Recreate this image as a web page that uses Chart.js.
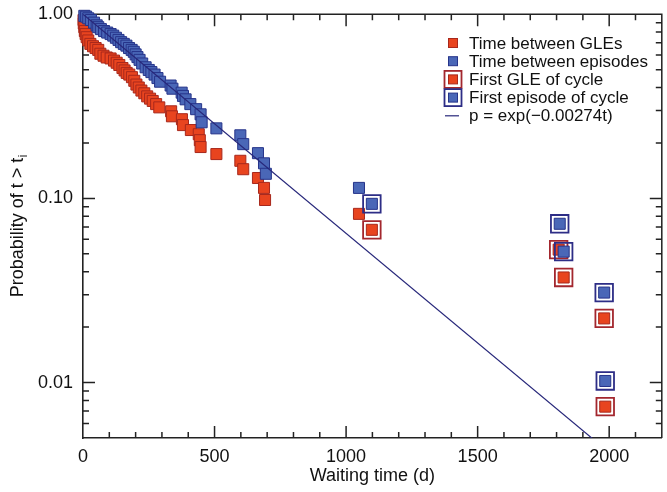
<!DOCTYPE html>
<html>
<head>
<meta charset="utf-8">
<script src="https://cdn.jsdelivr.net/npm/chart.js@4.4.1/dist/chart.umd.min.js"></script>
<style>
  html, body { margin: 0; padding: 0; background: #fff; overflow: hidden; }
  canvas { display: block; }
</style>
</head>
<body>
<canvas id="waitChart" width="676" height="492"></canvas>
<script>
// Waiting times (days) and survival probabilities
const gleTimes = [2, 3, 5, 7, 10, 14, 20, 28, 38, 48, 58, 66, 78, 90, 105, 118, 128, 138, 150, 158, 166, 176, 186, 195, 203, 212, 222, 233, 244, 255, 265, 278, 290, 335, 338, 376, 380, 410, 440, 444, 447, 507, 598, 609, 665, 688, 692, 1049];
const gleProb = [0.93, 0.89, 0.85, 0.81, 0.78, 0.75, 0.72, 0.69, 0.67, 0.655, 0.64, 0.61, 0.595, 0.582, 0.575, 0.56, 0.545, 0.53, 0.51, 0.495, 0.48, 0.47, 0.455, 0.435, 0.415, 0.40, 0.385, 0.372, 0.358, 0.348, 0.338, 0.325, 0.312, 0.297, 0.279, 0.269, 0.25, 0.235, 0.223, 0.207, 0.19, 0.174, 0.16, 0.144, 0.129, 0.114, 0.098, 0.0824];

const episodeTimes = [5, 12, 20, 30, 42, 52, 58, 68, 80, 92, 105, 115, 125, 135, 145, 155, 165, 175, 185, 193, 200, 207, 215, 225, 238, 250, 260, 272, 283, 293, 333, 340, 375, 380, 390, 408, 430, 447, 451, 507, 598, 609, 665, 688, 695, 1049];
const episodeProb = [0.98, 0.97, 0.95, 0.93, 0.90, 0.87, 0.85, 0.83, 0.81, 0.795, 0.78, 0.765, 0.745, 0.725, 0.705, 0.69, 0.675, 0.655, 0.64, 0.625, 0.605, 0.585, 0.565, 0.54, 0.515, 0.498, 0.485, 0.47, 0.45, 0.43, 0.41, 0.394, 0.375, 0.36, 0.345, 0.325, 0.305, 0.286, 0.259, 0.240, 0.220, 0.197, 0.176, 0.155, 0.136, 0.114];

const firstGleTimes = [1098, 1808, 1827, 1981, 1985];
const firstGleProb = [0.0675, 0.0527, 0.0372, 0.0223, 0.0074];
const firstEpisodeTimes = [1098, 1812, 1827, 1981, 1985];
const firstEpisodeProb = [0.0934, 0.0728, 0.0514, 0.0308, 0.0102];

// fitted decay rate given in the legend
const fitRate = 0.00274;
const fitTimes = [0, 2200];

const xTicks = [0, 500, 1000, 1500, 2000];
const yTicks = [0.01, 0.1, 1];
const legendLabels = ["Time between GLEs", "Time between episodes", "First GLE of cycle", "First episode of cycle", "p = exp(\u22120.00274t)"];

// colours
const redFill = "#e8441f", redEdge = "#a8281c", redRing = "#a3272e";
const blueFill = "#4a67b7", blueEdge = "#26348a", blueRing = "#2d2d86";
const fitColor = "#27277a";
const fontFamily = "'Liberation Sans', Arial, Helvetica, sans-serif";

const toPoints = (xs, ys) => xs.map((x, i) => ({ x: x, y: ys[i] }));

// Ticks on all four sides pointing inward + top/right frame
const framePlugin = {
  id: "frame",
  beforeDatasetsDraw(chart) {
    const { ctx, chartArea: a, scales: { x, y } } = chart;
    ctx.save();
    ctx.strokeStyle = "#222";
    ctx.lineWidth = 1.5;
    ctx.beginPath();
    ctx.moveTo(a.left, a.top);
    ctx.lineTo(a.right, a.top);
    ctx.lineTo(a.right, a.bottom);
    for (let t = 100; t <= 2200; t += 100) {
      const px = x.getPixelForValue(t);
      const len = t % 500 === 0 ? 12 : 6;
      ctx.moveTo(px, a.bottom);
      ctx.lineTo(px, a.bottom - len);
      ctx.moveTo(px, a.top);
      ctx.lineTo(px, a.top + len);
    }
    for (let k = -3; k <= 0; k++) {
      for (let m = 1; m <= 9; m++) {
        const v = m * Math.pow(10, k);
        if (v < y.min * 1.001 || v > y.max * 0.999) continue;
        const py = y.getPixelForValue(v);
        const len = m === 1 ? 12 : 6;
        ctx.moveTo(a.left, py);
        ctx.lineTo(a.left + len, py);
        ctx.moveTo(a.right, py);
        ctx.lineTo(a.right - len, py);
      }
    }
    ctx.stroke();
    ctx.restore();
  },
};

// y title with subscript, and the legend box
const textPlugin = {
  id: "texts",
  afterDraw(chart) {
    const { ctx, chartArea: a } = chart;
    ctx.save();
    ctx.fillStyle = "#111";

    // y axis title
    ctx.translate(18, (a.top + a.bottom) / 2);
    ctx.rotate(-Math.PI / 2);
    ctx.font = "18px " + fontFamily;
    const mainText = "Probability of t > t";
    const w1 = ctx.measureText(mainText).width;
    ctx.font = "12px " + fontFamily;
    const w2 = ctx.measureText("i").width;
    const start = -(w1 + w2) / 2;
    ctx.textBaseline = "middle";
    ctx.font = "18px " + fontFamily;
    ctx.fillText(mainText, start, 0);
    ctx.font = "12px " + fontFamily;
    ctx.fillText("i", start + w1 + 0.5, 6);
    ctx.setTransform(1, 0, 0, 1, 0, 0);

    // legend
    const cx = 453, tx = 469, y0 = 43, step = 18.2;
    const square = (yc, fill, edge, s) => {
      ctx.fillStyle = fill;
      ctx.fillRect(cx - s / 2, yc - s / 2, s, s);
      ctx.strokeStyle = edge;
      ctx.lineWidth = 1;
      ctx.strokeRect(cx - s / 2, yc - s / 2, s, s);
    };
    const ring = (yc, color) => {
      ctx.strokeStyle = color;
      ctx.lineWidth = 1.8;
      ctx.strokeRect(cx - 8.5, yc - 8.5, 17, 17);
    };
    square(y0, redFill, redEdge, 9);
    square(y0 + step, blueFill, blueEdge, 9);
    ring(y0 + 2 * step, redRing);
    square(y0 + 2 * step, redFill, redEdge, 9);
    ring(y0 + 3 * step, blueRing);
    square(y0 + 3 * step, blueFill, blueEdge, 9);
    ctx.strokeStyle = fitColor;
    ctx.lineWidth = 1.2;
    ctx.beginPath();
    ctx.moveTo(445, y0 + 4 * step);
    ctx.lineTo(459, y0 + 4 * step);
    ctx.stroke();

    ctx.fillStyle = "#111";
    ctx.font = "17px " + fontFamily;
    ctx.textBaseline = "middle";
    legendLabels.forEach((txt, i) => ctx.fillText(txt, tx, y0 + i * step + 1));
    ctx.restore();
  },
};

const squareSet = (data, fill, edge) => ({
  data: data,
  pointStyle: "rect",
  pointRadius: 7.8,
  pointBackgroundColor: fill,
  pointBorderColor: edge,
  pointBorderWidth: 1,
  clip: false,
});
const ringSet = (data, color) => ({
  data: data,
  pointStyle: "rect",
  pointRadius: 12.4,
  pointBackgroundColor: "rgba(0,0,0,0)",
  pointBorderColor: color,
  pointBorderWidth: 1.8,
  clip: false,
});

const config = {
  type: "scatter",
  data: {
    datasets: [
      {
        data: fitTimes.map((t) => ({ x: t, y: Math.exp(-fitRate * t) })),
        showLine: true,
        borderColor: fitColor,
        borderWidth: 1.2,
        pointRadius: 0,
      },
      squareSet(toPoints(firstEpisodeTimes, firstEpisodeProb), blueFill, blueEdge),
      ringSet(toPoints(firstEpisodeTimes, firstEpisodeProb), blueRing),
      squareSet(toPoints(firstGleTimes, firstGleProb), redFill, redEdge),
      ringSet(toPoints(firstGleTimes, firstGleProb), redRing),
      squareSet(toPoints(episodeTimes, episodeProb), blueFill, blueEdge),
      squareSet(toPoints(gleTimes, gleProb), redFill, redEdge),
    ],
  },
  options: {
    responsive: false,
    animation: false,
    events: [],
    layout: { padding: { top: 12, right: 8, bottom: 0, left: 0 } },
    scales: {
      x: {
        type: "linear",
        min: 0,
        max: 2200,
        afterBuildTicks: (s) => { s.ticks = xTicks.map((v) => ({ value: v })); },
        afterFit: (s) => { s.height = 54; s.paddingLeft = 0; s.paddingRight = 0; },
        grid: { display: false, drawTicks: false },
        border: { display: true, color: "#222", width: 1.6 },
        ticks: {
          padding: 8,
          color: "#111",
          font: { size: 18, family: fontFamily },
          maxRotation: 0,
          callback: (v) => String(v),
        },
        title: {
          display: true,
          text: "Waiting time (d)",
          color: "#111",
          font: { size: 18, family: fontFamily },
          padding: { top: 0, bottom: 5 },
        },
      },
      y: {
        type: "logarithmic",
        min: 0.005,
        max: 1,
        afterBuildTicks: (s) => { s.ticks = yTicks.map((v) => ({ value: v })); },
        afterFit: (s) => { s.width = 83; s.paddingTop = 0; s.paddingBottom = 0; },
        grid: { display: false, drawTicks: false },
        border: { display: true, color: "#222", width: 1.6 },
        ticks: {
          padding: 10,
          color: "#111",
          font: { size: 18, family: fontFamily },
          callback: (v) => Number(v).toFixed(2),
        },
      },
    },
    plugins: {
      legend: { display: false },
      tooltip: { enabled: false },
    },
  },
  plugins: [framePlugin, textPlugin],
};

const ctx = document.getElementById("waitChart").getContext("2d");
const waitChart = new Chart(ctx, config);
</script>
</body>
</html>
